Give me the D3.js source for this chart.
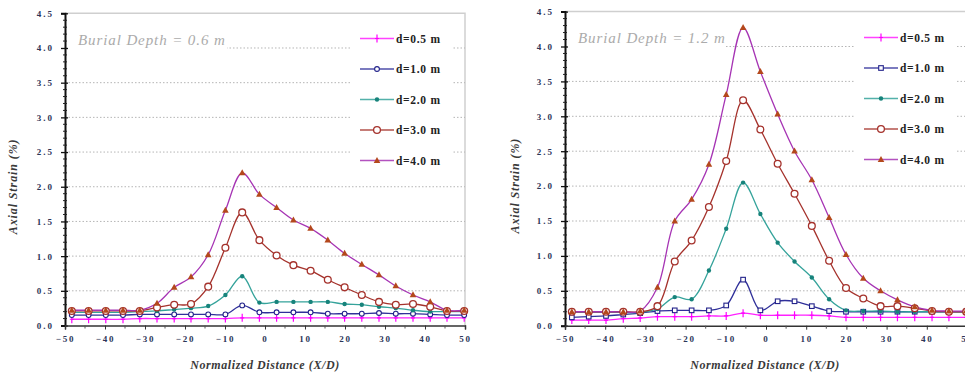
<!DOCTYPE html>
<html>
<head>
<meta charset="utf-8">
<script src="https://cdn.jsdelivr.net/npm/d3@7"></script>
<style>
  body { margin: 0; background: #fff; }
  svg { display: block; }
</style>
</head>
<body>
<div id="chart"></div>
<script>
// X/D positions shared by both panels
const xPos = [-48.3, -44.1, -39.8, -35.5, -31.3, -27.0, -22.7, -18.5, -14.2, -9.9, -5.7, -1.4,
              2.9, 7.1, 11.4, 15.7, 19.9, 24.2, 28.5, 32.7, 37.0, 41.3, 45.5, 49.8];

const seriesNames = ["d=0.5 m", "d=1.0 m", "d=2.0 m", "d=3.0 m", "d=4.0 m"];

// burial depth 0.6 m
const left05 = [0.09,0.09,0.09,0.09,0.10,0.10,0.10,0.10,0.10,0.10,0.11,0.11,0.11,0.11,0.11,0.11,0.11,0.11,0.11,0.11,0.11,0.11,0.11,0.11];
const left10 = [0.15,0.15,0.15,0.15,0.16,0.16,0.16,0.16,0.16,0.16,0.29,0.19,0.19,0.19,0.19,0.17,0.17,0.17,0.18,0.17,0.17,0.16,0.15,0.15];
const left20 = [0.19,0.19,0.19,0.19,0.20,0.21,0.23,0.25,0.28,0.44,0.71,0.33,0.34,0.34,0.34,0.34,0.31,0.30,0.27,0.25,0.22,0.20,0.20,0.20];
const left30 = [0.21,0.21,0.21,0.21,0.21,0.26,0.30,0.31,0.56,1.12,1.63,1.23,1.01,0.87,0.79,0.66,0.55,0.44,0.34,0.30,0.31,0.27,0.21,0.21];
const left40 = [0.22,0.22,0.22,0.22,0.22,0.32,0.55,0.70,1.02,1.66,2.20,1.89,1.70,1.52,1.40,1.23,1.04,0.88,0.73,0.57,0.44,0.34,0.22,0.22];

// burial depth 1.2 m
const right05 = [0.08,0.08,0.08,0.10,0.11,0.13,0.13,0.13,0.14,0.14,0.18,0.15,0.15,0.15,0.15,0.14,0.12,0.12,0.12,0.12,0.12,0.12,0.12,0.12];
const right10 = [0.12,0.13,0.14,0.16,0.18,0.21,0.22,0.22,0.22,0.29,0.66,0.22,0.35,0.35,0.28,0.21,0.20,0.20,0.20,0.20,0.20,0.20,0.20,0.20];
const right20 = [0.19,0.19,0.19,0.19,0.19,0.24,0.41,0.38,0.79,1.39,2.05,1.60,1.19,0.92,0.69,0.38,0.22,0.21,0.21,0.20,0.20,0.20,0.20,0.20];
const right30 = [0.20,0.20,0.20,0.20,0.20,0.28,0.92,1.22,1.70,2.36,3.23,2.81,2.32,1.89,1.43,0.93,0.54,0.39,0.28,0.28,0.25,0.21,0.20,0.20];
const right40 = [0.20,0.20,0.20,0.20,0.21,0.55,1.50,1.81,2.31,3.31,4.27,3.64,3.03,2.50,2.09,1.55,1.02,0.68,0.50,0.37,0.27,0.22,0.21,0.21];

const yTicks = [0, 0.5, 1.0, 1.5, 2.0, 2.5, 3.0, 3.5, 4.0, 4.5];
const xTicks = [-50, -40, -30, -20, -10, 0, 10, 20, 30, 40, 50];

const width = 965;
const height = 375;

const lineColors = ["#ff22ff", "#30309a", "#35a39b", "#a5322c", "#a634b4"];
const markColors = ["#ff00ff", "#22228a", "#17837b", "#a5322c", "#b4481c"];

const svg = d3.select("#chart")
    .append("svg")
    .attr("width", width)
    .attr("height", height);

svg.append("rect").attr("width", width).attr("height", height).attr("fill", "#fff");

function drawMarker(g, i, x, y, squareForOne) {
    if (i === 0) {
        g.append("path")
            .attr("d", `M${x},${y - 4}V${y + 4}M${x - 2},${y}H${x + 2}`)
            .attr("stroke", markColors[0]).attr("stroke-width", 1.2);
    } else if (i === 1) {
        if (squareForOne) {
            g.append("rect").attr("x", x - 2.3).attr("y", y - 2.3).attr("width", 4.6).attr("height", 4.6)
                .attr("fill", "#fff").attr("stroke", markColors[1]).attr("stroke-width", 1.1);
        } else {
            g.append("circle").attr("cx", x).attr("cy", y).attr("r", 2.4)
                .attr("fill", "#fff").attr("stroke", markColors[1]).attr("stroke-width", 1.1);
        }
    } else if (i === 2) {
        g.append("circle").attr("cx", x).attr("cy", y).attr("r", 2.2).attr("fill", markColors[2]);
    } else if (i === 3) {
        g.append("circle").attr("cx", x).attr("cy", y).attr("r", 3.4)
            .attr("fill", "#fff").attr("stroke", markColors[3]).attr("stroke-width", 1.3);
    } else {
        g.append("path")
            .attr("d", `M${x},${y - 3.6}L${x + 3.3},${y + 2.4}L${x - 3.3},${y + 2.4}Z`)
            .attr("fill", markColors[4]);
    }
}

function drawPanel(opts) {
    const x = d3.scaleLinear().domain([-50, 50]).range([opts.x0, opts.x1]);
    const y = d3.scaleLinear().domain([0, 4.5]).range([opts.y0, opts.y1]);
    const g = svg.append("g");

    // frame (top and right)
    g.append("path")
        .attr("d", `M${x(-50)},${y(4.5)}H${x(50)}V${y(0)}`)
        .attr("fill", "none").attr("stroke", "#cfcfcf").attr("stroke-width", 1.5);

    // gridlines
    g.append("g").selectAll("line")
        .data(yTicks.filter(d => d > 0 && d < 4.5))
        .join("line")
        .attr("x1", x(-50)).attr("x2", x(50))
        .attr("y1", d => y(d)).attr("y2", d => y(d))
        .attr("stroke", "#b5b5b5").attr("stroke-width", 1)
        .attr("stroke-dasharray", "1.5,2");

    // white boxes behind note and legend
    g.append("rect").attr("x", x(-50) + 2).attr("y", y(4.5) + 10)
        .attr("width", opts.noteW).attr("height", 36).attr("fill", "#fff");
    g.append("rect").attr("x", opts.legX - 10).attr("y", y(4.5) + 4)
        .attr("width", 103).attr("height", 158).attr("fill", "#fff");

    g.append("text")
        .attr("x", x(-50) + 13).attr("y", opts.noteY)
        .attr("font-family", "Liberation Serif, serif")
        .attr("font-style", "italic")
        .attr("font-size", 15)
        .attr("letter-spacing", "0.9px")
        .attr("fill", "#ababab")
        .text(opts.note);

    // series
    const line = d3.line()
        .x((d, i) => x(xPos[i]))
        .y(d => y(d))
        .curve(d3.curveCatmullRom.alpha(0.5));

    opts.series.forEach((vals, si) => {
        g.append("path")
            .attr("d", line(vals))
            .attr("fill", "none")
            .attr("stroke", lineColors[si])
            .attr("stroke-width", 1.3);
    });
    opts.series.forEach((vals, si) => {
        const mg = g.append("g");
        vals.forEach((v, i) => drawMarker(mg, si, x(xPos[i]), y(v), opts.square));
    });

    // legend
    seriesNames.forEach((name, i) => {
        const ly = opts.legY + i * 30.5;
        g.append("line")
            .attr("x1", opts.legX).attr("x2", opts.legX + 34)
            .attr("y1", ly).attr("y2", ly)
            .attr("stroke", lineColors[i]).attr("stroke-width", 1.6)
            .attr("stroke-opacity", 0.85);
        drawMarker(g, i, opts.legX + 17, ly, opts.square);
        g.append("text")
            .attr("x", opts.legX + 36).attr("y", ly + 4)
            .attr("font-family", "Liberation Serif, serif")
            .attr("font-weight", "bold")
            .attr("font-size", 11.5)
            .attr("letter-spacing", "0.7px")
            .attr("fill", "#222")
            .text(name);
    });

    // y axis
    const yAxis = g.append("g")
        .attr("transform", `translate(${x(-50)},0)`)
        .call(d3.axisLeft(y).tickValues(yTicks).tickFormat(d3.format(".1f")).tickSize(4).tickPadding(7));
    yAxis.select(".domain").attr("stroke", "#111").attr("stroke-width", 2);
    yAxis.selectAll(".tick line").attr("x1", 3).attr("stroke", "#111").attr("stroke-width", 1.3);
    yAxis.selectAll("text")
        .attr("font-family", "Liberation Serif, serif")
        .attr("font-weight", "bold")
        .attr("font-size", 9)
        .attr("letter-spacing", "2px")
        .attr("fill", "#2c3558");
    g.append("g")
        .attr("transform", `translate(${x(-50)},0)`)
        .selectAll("line")
        .data(d3.range(0, 46).map(d => d / 10).filter(d => Math.round(d * 10) % 5 !== 0))
        .join("line")
        .attr("x1", -2).attr("x2", 2)
        .attr("y1", d => y(d)).attr("y2", d => y(d))
        .attr("stroke", "#222").attr("stroke-width", 1);

    // x axis
    const xAxis = g.append("g")
        .attr("transform", `translate(0,${y(0)})`)
        .call(d3.axisBottom(x).tickValues(xTicks).tickFormat(d3.format("d")).tickSize(4).tickPadding(6));
    xAxis.select(".domain").attr("stroke", "#333").attr("stroke-width", 1.5);
    xAxis.selectAll(".tick line").attr("stroke", "#333");
    xAxis.selectAll("text")
        .attr("font-family", "Liberation Serif, serif")
        .attr("font-weight", "bold")
        .attr("font-size", 9)
        .attr("letter-spacing", "1.8px")
        .attr("fill", "#2c3558");
    g.append("g")
        .attr("transform", `translate(0,${y(0)})`)
        .selectAll("line")
        .data([-45, -35, -25, -15, -5, 5, 15, 25, 35, 45])
        .join("line")
        .attr("x1", d => x(d)).attr("x2", d => x(d))
        .attr("y1", 0).attr("y2", 3)
        .attr("stroke", "#555").attr("stroke-width", 1);

    // axis titles
    g.append("text")
        .attr("transform", `translate(${opts.yTitleX},${(y(0) + y(4.5)) / 2 + 17}) rotate(-90)`)
        .attr("text-anchor", "middle")
        .attr("font-family", "Liberation Serif, serif")
        .attr("font-style", "italic")
        .attr("font-weight", "bold")
        .attr("font-size", 12)
        .attr("letter-spacing", "0.9px")
        .attr("fill", "#3a3a3a")
        .text("Axial Strain (%)");

    g.append("text")
        .attr("x", opts.xTitleX).attr("y", 369)
        .attr("text-anchor", "middle")
        .attr("font-family", "Liberation Serif, serif")
        .attr("font-style", "italic")
        .attr("font-weight", "bold")
        .attr("font-size", 12)
        .attr("letter-spacing", "0.6px")
        .attr("fill", "#3a3a3a")
        .text("Normalized Distance (X/D)");
}

drawPanel({
    x0: 65, x1: 465, y0: 325.5, y1: 13.3,
    series: [left05, left10, left20, left30, left40],
    note: "Burial Depth = 0.6 m", noteY: 45, noteW: 160,
    legX: 360, legY: 38.5, square: false,
    yTitleX: 17, xTitleX: 265
});

drawPanel({
    x0: 565, x1: 967, y0: 325.7, y1: 11.6,
    series: [right05, right10, right20, right30, right40],
    note: "Burial Depth = 1.2 m", noteY: 43, noteW: 158,
    legX: 864, legY: 37.5, square: true,
    yTitleX: 519, xTitleX: 765
});
</script>
</body>
</html>
